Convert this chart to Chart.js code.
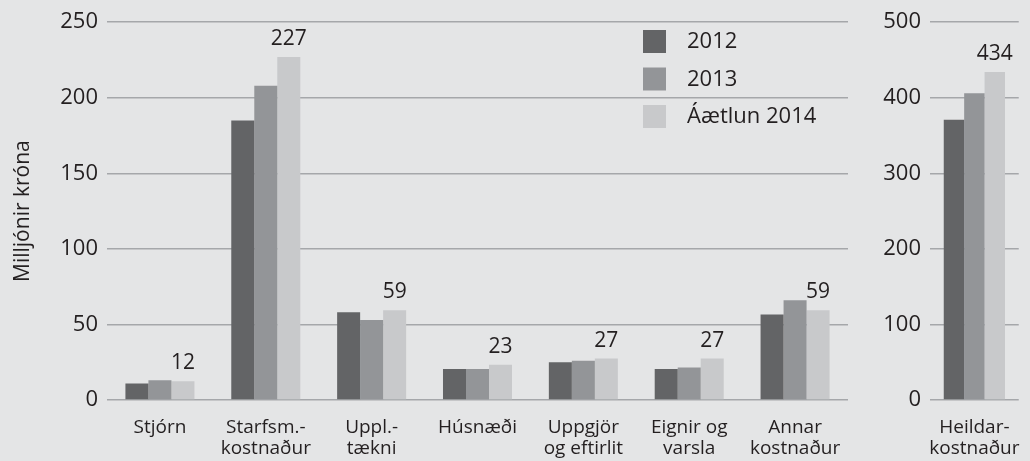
<!DOCTYPE html>
<html>
<head>
<meta charset="utf-8">
<script src="https://cdn.jsdelivr.net/npm/chart.js@4/dist/chart.umd.min.js"></script>
<style>
  body { margin: 0; background: #e4e5e6; }
  #wrap { position: relative; width: 1030px; height: 461px; background: #e4e5e6; }
  #main-box { position: absolute; left: 0; top: 0; width: 860px; height: 461px; }
  #total-box { position: absolute; left: 860px; top: 0; width: 170px; height: 461px; }
</style>
</head>
<body>
<div id="wrap">
  <div id="main-box"><canvas id="main-chart"></canvas></div>
  <div id="total-box"><canvas id="total-chart"></canvas></div>
</div>
<script>
// categories and values (milljónir króna)
var categories = [['Stjórn'], ['Starfsm.-', 'kostnaður'], ['Uppl.-', 'tækni'], ['Húsnæði'],
  ['Uppgjör', 'og eftirlit'], ['Eignir og', 'varsla'], ['Annar', 'kostnaður']];
var seriesNames = ['2012', '2013', 'Áætlun 2014'];
var values2012 = [11, 185, 58, 20.5, 25, 20.5, 56.5];
var values2013 = [13, 208, 53, 20.5, 26, 21.5, 66];
var values2014 = [12.4, 227, 59.4, 23.4, 27.4, 27.4, 59.4];

var totalCategory = [['Heildar-', 'kostnaður']];
var total2012 = [371];
var total2013 = [406];
var total2014 = [434];

var colors = ['#636466', '#939598', '#c8c9cb'];
var textColor = '#231f20';
var gridColor = '#a5a7aa';
var fontFamily = '"Open Sans", Lato, sans-serif';

Chart.defaults.font.family = fontFamily;
Chart.defaults.color = textColor;

// label over the last series bars
var valueLabels = {
  id: 'valueLabels',
  afterDatasetsDraw: function(chart) {
    var ctx = chart.ctx;
    var meta = chart.getDatasetMeta(2);
    ctx.save();
    ctx.font = '21px ' + fontFamily;
    ctx.fillStyle = textColor;
    ctx.textAlign = 'center';
    ctx.textBaseline = 'alphabetic';
    meta.data.forEach(function(bar, i) {
      var v = chart.data.datasets[2].data[i];
      ctx.fillText(Math.round(v), bar.x, bar.y - 12);
    });
    ctx.restore();
  }
};

// legend inside the plot area
var boxLegend = {
  id: 'boxLegend',
  afterDraw: function(chart) {
    var ctx = chart.ctx;
    ctx.save();
    ctx.font = '22px ' + fontFamily;
    ctx.textBaseline = 'middle';
    chart.data.datasets.forEach(function(ds, i) {
      var y = 30 + i * 37.5;
      ctx.fillStyle = ds.backgroundColor;
      ctx.fillRect(643, y, 23, 23);
      ctx.fillStyle = textColor;
      ctx.fillText(ds.label, 687, y + 12);
    });
    ctx.restore();
  }
};

function makeDatasets(a, b, c) {
  return [a, b, c].map(function(d, i) {
    return {
      label: seriesNames[i],
      data: d,
      backgroundColor: colors[i],
      borderWidth: 0,
      barPercentage: 1.0
    };
  });
}

function makeOptions(max, step, yWidth, padRight, catPct, title) {
  return {
    responsive: true,
    maintainAspectRatio: false,
    animation: false,
    layout: { padding: { top: 22, right: padRight, bottom: 0, left: 0 } },
    datasets: { bar: { categoryPercentage: catPct } },
    plugins: { legend: { display: false }, tooltip: { enabled: false } },
    scales: {
      x: {
        grid: { display: false },
        border: { display: false },
        ticks: { font: { size: 19, lineHeight: 1.1 }, padding: 9, maxRotation: 0, autoSkip: false },
        afterFit: function(scale) { scale.height = 61; }
      },
      y: {
        min: 0,
        max: max,
        ticks: { stepSize: step, font: { size: 22 }, padding: 9 },
        grid: { color: gridColor, lineWidth: 1.5, drawTicks: false },
        border: { display: false },
        title: title ? { display: true, text: title, font: { size: 21 }, padding: { top: 10, bottom: 0 } } : { display: false },
        afterFit: function(scale) { scale.width = yWidth; }
      }
    }
  };
}

new Chart(document.getElementById('main-chart'), {
  type: 'bar',
  data: { labels: categories, datasets: makeDatasets(values2012, values2013, values2014) },
  options: makeOptions(250, 50, 107, 12, 0.652, 'Milljónir króna'),
  plugins: [valueLabels, boxLegend]
});

new Chart(document.getElementById('total-chart'), {
  type: 'bar',
  data: { labels: totalCategory, datasets: makeDatasets(total2012, total2013, total2014) },
  options: makeOptions(500, 100, 70, 3, 0.69, null),
  plugins: [valueLabels]
});
</script>
</body>
</html>
